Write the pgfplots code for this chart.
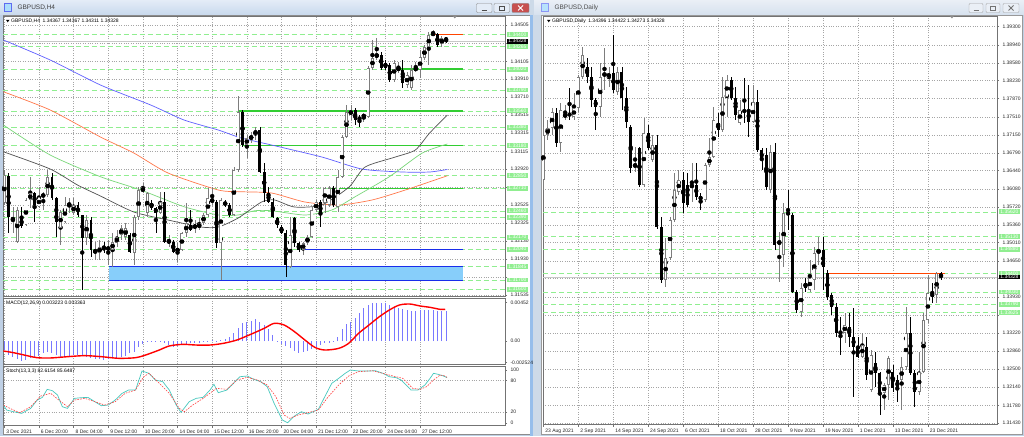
\documentclass[border=0pt]{standalone}
\usepackage{fontspec}
\setmainfont{Liberation Sans}
\usepackage{pgfplots}
\usepackage{pgfplotstable}
\pgfplotsset{compat=1.18}

\definecolor{winbg}{RGB}{191,208,229}
\definecolor{titA}{RGB}{228,236,247}
\definecolor{titB}{RGB}{200,217,237}
\definecolor{titC}{RGB}{234,239,246}
\definecolor{titD}{RGB}{214,225,238}
\definecolor{closec}{RGB}{199,80,80}
\definecolor{sepA}{RGB}{205,218,232}
\definecolor{sepB}{RGB}{150,190,235}
\definecolor{upc}{RGB}{125,125,125}
\definecolor{lgreen}{RGB}{144,238,144}
\definecolor{sgreen}{RGB}{50,205,50}
\definecolor{lblue}{RGB}{135,206,250}
\definecolor{dblue}{RGB}{25,45,235}
\definecolor{ored}{RGB}{255,69,0}
\definecolor{maBlue}{RGB}{95,95,255}
\definecolor{maOrange}{RGB}{255,120,75}
\definecolor{maGreen}{RGB}{120,215,120}
\definecolor{maGrey}{RGB}{80,80,80}
\definecolor{histc}{RGB}{120,120,255}
\definecolor{stochm}{RGB}{72,200,190}
\definecolor{gridc}{RGB}{165,165,165}
\definecolor{pline}{RGB}{200,200,200}

\newcommand\tf{\fontsize{5}{6}\selectfont}

\pgfplotsset{
  mt/.style={
    scale only axis, anchor=north west,
    axis background/.style={fill=white},
    axis line style={draw=black!55, line width=0.5pt},
    tick label style={font=\tf, text=black!85},
    ytick pos=right, yticklabel pos=right,
    xtick pos=bottom,
    tick align=outside, major tick length=2pt,
    every tick/.style={black!55, line width=0.4pt},
    grid style={draw=gridc, dash pattern=on 0.8pt off 1.6pt, line width=0.4pt},
    clip mode=individual,
    yticklabel style={anchor=west},
    scaled y ticks=false, scaled x ticks=false,
  },
  eb/.style={forget plot, only marks, mark=none, error bars/y dir=both, error bars/y explicit, error bars/error mark=none},
}

% #1 table, #2 min half body, #3 inner shrink, #4 body width, #5 inner width
\newcommand{\candles}[5]{%
 \addplot[eb, restrict expr to domain={\thisrow{c}-\thisrow{o}}{0:1}, error bars/error bar style={draw=upc, line width=0.6pt, solid}]
   table[x=i, y expr={(\thisrow{h}+\thisrow{l})/2}, y error expr={(\thisrow{h}-\thisrow{l})/2}] {#1};
 \addplot[eb, restrict expr to domain={\thisrow{o}-\thisrow{c}}{0.000001:1}, error bars/error bar style={draw=black, line width=0.6pt, solid}]
   table[x=i, y expr={(\thisrow{h}+\thisrow{l})/2}, y error expr={(\thisrow{h}-\thisrow{l})/2}] {#1};
 \addplot[eb, restrict expr to domain={\thisrow{c}-\thisrow{o}}{0:1}, error bars/error bar style={draw=upc, line width=#4, solid}]
   table[x=i, y expr={(\thisrow{o}+\thisrow{c})/2}, y error expr={max(abs(\thisrow{c}-\thisrow{o})/2,#2)}] {#1};
 \addplot[eb, restrict expr to domain={\thisrow{c}-\thisrow{o}}{0:1}, error bars/error bar style={draw=white, line width=#5, solid}]
   table[x=i, y expr={(\thisrow{o}+\thisrow{c})/2}, y error expr={max(abs(\thisrow{c}-\thisrow{o})/2-#3,0)}] {#1};
 \addplot[eb, restrict expr to domain={\thisrow{o}-\thisrow{c}}{0.000001:1}, error bars/error bar style={draw=black, line width=#4, solid}]
   table[x=i, y expr={(\thisrow{o}+\thisrow{c})/2}, y error expr={max(abs(\thisrow{c}-\thisrow{o})/2,#2)}] {#1};
}
\newcommand{\gbox}[3]{\node[anchor=west, fill=lgreen, text=white, inner xsep=1.2pt, inner ysep=0.7pt, font=\tf, xshift=2pt] at (axis cs:#1,#2) {#3};}
\newcommand{\kbox}[3]{\node[anchor=west, fill=black, text=white, inner xsep=1.2pt, inner ysep=0.7pt, font=\tf, xshift=2pt] at (axis cs:#1,#2) {#3};}

% ---------------- H4 candles (index, open, high, low, close)
\pgfplotstableread{
i o h l c
0 1.32547 1.32910 1.32525 1.32855
1 1.32844 1.32877 1.32217 1.32393
2 1.32360 1.32503 1.32217 1.32382
3 1.32118 1.32503 1.32107 1.32470
4 1.32382 1.32503 1.32272 1.32294
5 1.32305 1.32602 1.32294 1.32580
6 1.32580 1.32833 1.32492 1.32657
7 1.32657 1.32668 1.32338 1.32525
8 1.32503 1.32723 1.32492 1.32613
9 1.32613 1.32668 1.32470 1.32646
10 1.32635 1.32910 1.32613 1.32833
11 1.32833 1.32877 1.32580 1.32602
12 1.32602 1.32613 1.32173 1.32338
13 1.32272 1.32470 1.32085 1.32448
14 1.32338 1.32613 1.32327 1.32525
15 1.32525 1.32602 1.32437 1.32536
16 1.32437 1.32602 1.32415 1.32525
17 1.32525 1.32558 1.32393 1.32415
18 1.32415 1.32415 1.31590 1.32162
19 1.32162 1.32415 1.32085 1.32360
20 1.32360 1.32393 1.31953 1.32030
21 1.31997 1.32118 1.31920 1.32030
22 1.31997 1.32140 1.31920 1.32063
23 1.32063 1.32118 1.31997 1.32030
24 1.32030 1.32140 1.31865 1.32063
25 1.32030 1.32217 1.31843 1.32118
26 1.32107 1.32250 1.32063 1.32173
27 1.32195 1.32305 1.32140 1.32272
28 1.32173 1.32327 1.32140 1.32272
29 1.32195 1.32217 1.31997 1.32008
30 1.31997 1.32415 1.31865 1.32393
31 1.32393 1.32723 1.32360 1.32690
32 1.32668 1.32767 1.32657 1.32723
33 1.32437 1.32668 1.32393 1.32657
34 1.32547 1.32580 1.32470 1.32492
35 1.32492 1.32503 1.32217 1.32437
36 1.32437 1.32668 1.32426 1.32558
37 1.32558 1.32668 1.32107 1.32118
38 1.32107 1.32195 1.32063 1.32140
39 1.32118 1.32140 1.31997 1.32008
40 1.32008 1.32107 1.31898 1.32052
41 1.32030 1.32228 1.32019 1.32217
42 1.32217 1.32547 1.32173 1.32327
43 1.32305 1.32470 1.32239 1.32250
44 1.32272 1.32360 1.32217 1.32305
45 1.32272 1.32382 1.32250 1.32327
46 1.32327 1.32437 1.32305 1.32415
47 1.32415 1.32712 1.32393 1.32602
48 1.32547 1.32723 1.32525 1.32602
49 1.32558 1.32580 1.32052 1.32107
50 1.32107 1.32602 1.31700 1.32580
51 1.32558 1.32580 1.32503 1.32525
52 1.32525 1.32547 1.32393 1.32415
53 1.32415 1.32943 1.32404 1.32910
54 1.32910 1.33724 1.32888 1.33548
55 1.33548 1.33570 1.33163 1.33185
56 1.33185 1.33295 1.33042 1.33262
57 1.33240 1.33328 1.33207 1.33295
58 1.33295 1.33383 1.33240 1.33350
59 1.33350 1.33383 1.32877 1.32888
60 1.32888 1.32987 1.32558 1.32657
61 1.32657 1.32723 1.32547 1.32558
62 1.32558 1.32602 1.32382 1.32393
63 1.32382 1.32393 1.32272 1.32305
64 1.32283 1.32305 1.32206 1.32217
65 1.32217 1.32250 1.31733 1.31865
66 1.31843 1.32393 1.31832 1.32195
67 1.32382 1.32393 1.32063 1.32107
68 1.32107 1.32118 1.32008 1.32030
69 1.32030 1.32118 1.31975 1.32107
70 1.32107 1.32195 1.32085 1.32173
71 1.32173 1.32503 1.32162 1.32470
72 1.32470 1.32580 1.32448 1.32558
73 1.32558 1.32580 1.32283 1.32415
74 1.32547 1.32723 1.32437 1.32712
75 1.32525 1.32733 1.32503 1.32712
76 1.32712 1.32733 1.32503 1.32525
77 1.32503 1.32910 1.32448 1.32833
78 1.32833 1.33295 1.32822 1.33273
79 1.33273 1.33625 1.33262 1.33548
80 1.33515 1.33625 1.33460 1.33570
81 1.33570 1.33592 1.33405 1.33460
82 1.33493 1.33515 1.33383 1.33460
83 1.33493 1.33537 1.33438 1.33515
84 1.33493 1.34054 1.33482 1.34032
85 1.34032 1.34340 1.34010 1.34142
86 1.34142 1.34362 1.34120 1.34197
87 1.34175 1.34208 1.34010 1.34032
88 1.34087 1.34120 1.34010 1.34032
89 1.34065 1.34087 1.33878 1.33900
90 1.33900 1.34120 1.33878 1.34087
91 1.34010 1.34098 1.33977 1.34032
92 1.34010 1.34120 1.33812 1.33867
93 1.33845 1.33988 1.33812 1.33955
94 1.33812 1.34065 1.33790 1.34010
95 1.34010 1.34098 1.33988 1.34032
96 1.34010 1.34230 1.33922 1.34153
97 1.34142 1.34285 1.34120 1.34263
98 1.34263 1.34428 1.34065 1.34395
99 1.34395 1.34450 1.34384 1.34417
100 1.34406 1.34417 1.34263 1.34285
101 1.34296 1.34384 1.34263 1.34362
102 1.34367 1.34367 1.34311 1.34328
}\hfour

% ---------------- Daily candles
\pgfplotstableread{
i o h l c
0 1.36255 1.37308 1.36057 1.37149
1 1.37149 1.37447 1.37050 1.37288
2 1.37288 1.37685 1.37149 1.37606
3 1.37586 1.37685 1.36911 1.36990
4 1.36990 1.37784 1.36811 1.37645
5 1.37506 1.37745 1.37447 1.37566
6 1.37586 1.38082 1.37447 1.37526
7 1.37506 1.37983 1.37447 1.37685
8 1.37685 1.38340 1.37606 1.38301
9 1.38301 1.38897 1.38261 1.38738
10 1.38499 1.38678 1.38182 1.38301
11 1.38301 1.38499 1.37705 1.37844
12 1.37844 1.37884 1.37248 1.37705
13 1.37705 1.38579 1.37506 1.38301
14 1.38321 1.38877 1.38043 1.38380
15 1.38281 1.38499 1.38102 1.38380
16 1.38380 1.39135 1.37983 1.38043
17 1.38003 1.38499 1.37943 1.38400
18 1.38400 1.38499 1.37645 1.37884
19 1.37884 1.38102 1.37288 1.37407
20 1.37308 1.37348 1.36394 1.36494
21 1.36494 1.36911 1.36414 1.36593
22 1.36891 1.36911 1.36116 1.36156
23 1.36156 1.37487 1.36116 1.37189
24 1.37189 1.37348 1.36851 1.36891
25 1.36652 1.37149 1.36613 1.36950
26 1.36950 1.37149 1.35282 1.35322
27 1.35322 1.35520 1.34210 1.34269
28 1.34269 1.35103 1.34130 1.34706
29 1.34706 1.35520 1.34666 1.35461
30 1.35461 1.36394 1.35421 1.36057
31 1.36017 1.36454 1.35957 1.36255
32 1.36255 1.36414 1.35600 1.35798
33 1.36156 1.36394 1.35719 1.35759
34 1.36116 1.36593 1.35818 1.36156
35 1.36156 1.36593 1.35858 1.35918
36 1.35937 1.35997 1.35659 1.35858
37 1.35858 1.36593 1.35818 1.36553
38 1.36553 1.37090 1.36513 1.36712
39 1.36712 1.37705 1.36692 1.37447
40 1.37387 1.37586 1.37109 1.37248
41 1.37248 1.38301 1.37209 1.37904
42 1.37904 1.38340 1.37506 1.38241
43 1.38241 1.38301 1.37844 1.37884
44 1.37884 1.38102 1.37447 1.37546
45 1.37387 1.37844 1.37348 1.37645
46 1.37645 1.38281 1.37387 1.37606
47 1.37645 1.38142 1.37109 1.37407
48 1.37407 1.38142 1.37387 1.37804
49 1.37804 1.38043 1.36811 1.36851
50 1.36851 1.36891 1.36454 1.36652
51 1.36752 1.36891 1.36057 1.36116
52 1.36057 1.36950 1.35997 1.36811
53 1.36811 1.36990 1.34865 1.34964
54 1.34964 1.35223 1.34229 1.35064
55 1.34766 1.35798 1.34527 1.35600
56 1.35620 1.36057 1.35262 1.35560
57 1.35560 1.35600 1.34011 1.34031
58 1.34031 1.34071 1.33614 1.33673
59 1.33634 1.34210 1.33534 1.34110
60 1.34210 1.34309 1.34031 1.34110
61 1.34071 1.34666 1.34031 1.34309
62 1.34269 1.34925 1.34071 1.34805
63 1.34805 1.35123 1.34567 1.34865
64 1.34865 1.35123 1.34071 1.34527
65 1.34408 1.34468 1.33872 1.33932
66 1.33971 1.34011 1.33574 1.33733
67 1.33733 1.33812 1.33137 1.33217
68 1.33237 1.33534 1.32780 1.33217
69 1.33217 1.33614 1.33018 1.33376
70 1.33336 1.33614 1.32939 1.33137
71 1.33137 1.33713 1.31946 1.32939
72 1.32939 1.33137 1.32720 1.32740
73 1.32740 1.33217 1.32720 1.32978
74 1.32939 1.33137 1.32283 1.32383
75 1.32085 1.32879 1.32045 1.32780
76 1.32621 1.32840 1.32144 1.32422
77 1.32422 1.32442 1.31588 1.32025
78 1.32025 1.32224 1.31687 1.32184
79 1.32184 1.32760 1.31886 1.32720
80 1.32442 1.32581 1.32045 1.32124
81 1.32283 1.32383 1.31846 1.32124
82 1.32283 1.32740 1.31687 1.32541
83 1.32541 1.33733 1.32482 1.33217
84 1.33217 1.33534 1.32383 1.32422
85 1.32422 1.32482 1.31747 1.32045
86 1.32045 1.32840 1.31985 1.32442
87 1.32442 1.33614 1.32422 1.33475
88 1.33475 1.34369 1.33415 1.34011
89 1.34011 1.34210 1.33812 1.33932
90 1.33971 1.34428 1.33812 1.34396
91 1.34396 1.34422 1.34273 1.34328
}\daily

% ---------------- MACD histogram
\pgfplotstableread{
i m
0 -0.00105
1 -0.00164
2 -0.00183
3 -0.00214
4 -0.00234
5 -0.00222
6 -0.00202
7 -0.00183
8 -0.00171
9 -0.00144
10 -0.00132
11 -0.00144
12 -0.00164
13 -0.00183
14 -0.00183
15 -0.00175
16 -0.00167
17 -0.00164
18 -0.00175
19 -0.00191
20 -0.00202
21 -0.00214
22 -0.00214
23 -0.00222
24 -0.00214
25 -0.00202
26 -0.00202
27 -0.00183
28 -0.00171
29 -0.00144
30 -0.00125
31 -0.00074
32 -0.00035
33 -0.00016
34 -0.00012
35 -0.00008
36 -0.00004
37 -0.00019
38 -0.00047
39 -0.00066
40 -0.00058
41 -0.00047
42 -0.00039
43 -0.00027
44 -0.00027
45 -0.00019
46 -0.00008
47 0.00002
48 0.00012
49 0.00004
50 0.00012
51 0.00019
52 0.00051
53 0.00090
54 0.00156
55 0.00206
56 0.00226
57 0.00237
58 0.00253
59 0.00226
60 0.00187
61 0.00136
62 0.00070
63 0.00004
64 -0.00035
65 -0.00058
66 -0.00086
67 -0.00113
68 -0.00136
69 -0.00132
70 -0.00113
71 -0.00097
72 -0.00074
73 -0.00047
74 -0.00027
75 -0.00019
76 -0.00008
77 0.00051
78 0.00136
79 0.00195
80 0.00226
81 0.00265
82 0.00323
83 0.00382
84 0.00420
85 0.00440
86 0.00448
87 0.00448
88 0.00440
89 0.00420
90 0.00401
91 0.00382
92 0.00370
93 0.00362
94 0.00354
95 0.00354
96 0.00362
97 0.00362
98 0.00362
99 0.00362
100 0.00350
101 0.00350
102 0.00345
}\macdh

\pgfplotstableread{
i s
-0.2 -0.00117
2.1 -0.00136
5.25 -0.00171
7.6 -0.00195
10.7 -0.00198
14.6 -0.00183
18.6 -0.00171
22.4 -0.00183
26.4 -0.00202
30.3 -0.00195
32.6 -0.00164
35.8 -0.00105
38.1 -0.00058
41.2 -0.00039
44.3 -0.00047
47.5 -0.00047
50.6 -0.00027
53.7 0.00012
56.9 0.00078
60.0 0.00148
62.3 0.00206
64.6 0.00187
67.0 0.00109
69.4 0.00012
71.7 -0.00074
74.0 -0.00105
77.2 -0.00086
79.5 -0.00027
81.8 0.00090
84.2 0.00187
86.6 0.00284
88.9 0.00362
91.2 0.00420
93.6 0.00432
96.0 0.00409
98.3 0.00393
100.6 0.00370
101.8 0.00370
}\macds

\pgfplotstableread{
i k
-0.2 33.5
0.55 24
2.1 21
4.0 17.7
6.1 27.2
7.6 43
8.8 48.1
9.9 63.3
11.1 60.8
12.3 52.5
13.4 30.4
14.6 27.2
16.2 46.2
17.8 47.5
19.3 48.1
20.9 39.9
22.4 32.3
24.0 33.5
25.6 43
27.2 55.7
28.7 62
30.3 62
31.8 98.1
33.4 93.7
34.9 81
36.6 77.8
38.1 62
39.7 33.5
40.8 19.6
42.7 39.9
44.3 46.2
45.9 48.1
47.5 62
48.4 72.8
49.4 57
51.4 62
52.9 74.7
54.4 87.3
56.1 88.6
57.6 82.3
59.2 77.8
60.7 68.4
62.3 36.7
64.2 5.1
65.4 0
67.0 12.7
68.6 20.9
70.1 16.5
72.5 25.3
74.0 49.4
75.6 74.7
77.2 84.2
78.7 93.7
79.9 100
81.8 98.1
84.2 98.1
85.7 98.7
87.4 93.7
88.9 87.3
90.5 85.4
91.6 81
92.8 71.5
93.9 62
95.5 62
97.1 71.5
98.3 84.2
99.1 93.7
100.2 91.8
101.4 88.6
102.2 85.5
}\stochk

\pgfplotstableread{
i d
-0.2 33.5
1.3 27.2
3.6 19
6.1 30.4
8.4 50.6
10.7 55.7
12.6 43
14.6 30.4
16.2 43
18.6 46.2
20.9 39.9
23.2 33.5
25.6 39.9
27.9 55.7
30.3 62
32.2 87.3
33.4 93.7
35.8 74.7
38.1 55.7
40.4 27.2
41.6 20.9
43.5 33.5
45.9 46.2
49.0 65.2
51.4 63.3
53.7 81
56.1 86.1
58.4 81
60.7 71.5
62.7 49.4
64.6 14.6
65.9 8.2
67.8 14.6
70.1 19
72.5 24
74.8 49.4
77.2 71.5
79.5 88.6
81.8 96.8
84.9 98.7
87.4 93.7
89.7 88.6
92.0 84.2
94.3 65.2
96.0 63.3
97.5 68.4
99.1 81
100.6 90.5
101.8 88.6
102.2 86
}\stochd

\begin{document}
\begin{tikzpicture}
\useasboundingbox (0pt,0pt) rectangle (1024pt,-436pt);
\begin{scope}[x=1pt,y=-1pt]
  \fill[winbg] (0,0) rectangle (1024,436);
  % left window
  \shade[top color=titA, bottom color=titB] (0,0) rectangle (532,15);
  \fill[white] (3,15) rectangle (530,434);
  \draw[black!45, line width=0.4pt] (3,15) rectangle (530,434);
  \fill[lblue!70] (4,3.5) rectangle (11.5,11.5); \draw[dblue!70, line width=0.4pt] (4,3.5) rectangle (11.5,11.5);
  \node[anchor=west, font=\fontsize{6.5}{7}\selectfont, text=black!75] at (14,8) {GBPUSD,H4};
  \draw[black!45, fill=titA, rounded corners=1pt] (476.5,3.5) rectangle (492,12.5);
  \draw[black!70, line width=0.8pt] (481.5,10) -- (487,10);
  \draw[black!45, fill=titA, rounded corners=1pt] (494,3.5) rectangle (509.5,12.5);
  \draw[black!70, line width=0.5pt] (499,6) rectangle (504.5,10.5);
  \draw[black!50, fill=closec, rounded corners=1pt] (512,3.5) rectangle (529,12.5);
  \draw[white, line width=0.9pt] (518,5.5) -- (523,10.5) (518,10.5) -- (523,5.5);
  % right window
  \fill[sepA] (530,0) rectangle (541,436);
  \fill[sepB] (530,15) rectangle (532.5,436);
  \shade[top color=titC, bottom color=titD] (534,0) rectangle (1024,15);
  \fill[white] (541,15) rectangle (1022,434);
  \draw[black!40, line width=0.4pt] (541,15) rectangle (1022,434);
  \fill[lblue!60] (541,3.5) rectangle (548.5,11.5); \draw[dblue!50, line width=0.4pt] (541,3.5) rectangle (548.5,11.5);
  \node[anchor=west, font=\fontsize{6.5}{7}\selectfont, text=black!70] at (551,8) {GBPUSD,Daily};
  \draw[black!35, fill=titC, rounded corners=1pt] (969,3.5) rectangle (983,12.5);
  \draw[black!55, line width=0.8pt] (973.5,10) -- (978.5,10);
  \draw[black!35, fill=titC, rounded corners=1pt] (986,3.5) rectangle (1000,12.5);
  \draw[black!55, line width=0.5pt] (990.5,6) rectangle (995.5,10.5);
  \draw[black!35, fill=titC, rounded corners=1pt] (1003,3.5) rectangle (1019,12.5);
  \draw[black!55, line width=0.8pt] (1008.5,5.5) -- (1013.5,10.5) (1008.5,10.5) -- (1013.5,5.5);
\end{scope}

% ================= H4 main chart =================
\begin{axis}[mt, at={(3.5pt,-16pt)}, width=501.5pt, height=280pt,
  xmin=-0.18, xmax=115.6, ymin=1.31524, ymax=1.34604,
  xtick={0,8,...,96}, xticklabel=\empty, xtick style={draw=none},
  xmajorgrids, ymajorgrids,
  ytick={1.31535,1.31735,1.31930,1.32130,1.32325,1.32525,1.32720,1.32920,1.33115,1.33315,1.33515,1.33710,1.33910,1.34105,1.34305,1.34505},
  yticklabels={1.31535,,1.31930,1.32130,1.32325,1.32525,,1.32920,1.33115,1.33315,1.33515,1.33710,1.33910,1.34105,,1.34505},
  after end axis/.code={
    \gbox{115.6}{1.34400}{1.34400}
    \gbox{115.6}{1.34265}{1.34265}
    \gbox{115.6}{1.34020}{1.34020}
    \gbox{115.6}{1.33790}{1.33790}
    \gbox{115.6}{1.33560}{1.33560}
    \gbox{115.6}{1.33380}{1.33380}
    \gbox{115.6}{1.33180}{1.33180}
    \gbox{115.6}{1.32850}{1.32850}
    \gbox{115.6}{1.32710}{1.32710}
    \gbox{115.6}{1.32460}{1.32460}
    \gbox{115.6}{1.32390}{1.32390}
    \gbox{115.6}{1.32170}{1.32170}
    \gbox{115.6}{1.32040}{1.32040}
    \gbox{115.6}{1.31845}{1.31845}
    \gbox{115.6}{1.31700}{1.31700}
    \gbox{115.6}{1.31600}{1.31600}
    \kbox{115.6}{1.34328}{1.34328}
    \fill[black!45] (axis cs:104,1.34604) -- ++(-2pt,0) -- ++(2pt,-2.5pt) -- ++(2pt,2.5pt) -- cycle;
  }]
  \pgfplotsinvokeforeach{1.34400,1.34265,1.34020,1.33790,1.33560,1.33380,1.33180,1.32850,1.32710,1.32460,1.32390,1.32170,1.32040,1.31845,1.31700,1.31600}{
    \draw[lgreen, line width=0.8pt, dash pattern=on 5pt off 3pt] (axis cs:-0.18,#1) -- (axis cs:115.6,#1);}
  \draw[pline, line width=0.5pt] (axis cs:-0.18,1.34328) -- (axis cs:115.6,1.34328);
  \fill[lblue] (axis cs:24.2,1.31845) rectangle (axis cs:105.9,1.31700);
  \draw[dblue, line width=1pt] (axis cs:24.2,1.31845) -- (axis cs:105.9,1.31845);
  \draw[dblue, line width=1pt] (axis cs:24.2,1.31700) -- (axis cs:105.9,1.31700);
  \draw[dblue, line width=0.9pt] (axis cs:68.5,1.32040) -- (axis cs:105.9,1.32040);
  \draw[sgreen, line width=1.2pt] (axis cs:90.6,1.34020) -- (axis cs:105.9,1.34020);
  \draw[sgreen, line width=1.2pt] (axis cs:54.2,1.33560) -- (axis cs:105.9,1.33560);
  \draw[sgreen, line width=1.4pt] (axis cs:55.1,1.33180) -- (axis cs:105.9,1.33180);
  \draw[sgreen, line width=1.2pt] (axis cs:75.2,1.32710) -- (axis cs:105.9,1.32710);
  \draw[ored, line width=1.3pt] (axis cs:98.7,1.34400) -- (axis cs:105.9,1.34400);
  % moving averages
  \addplot[maBlue, line width=0.7pt, smooth, tension=0.4, mark=none, forget plot] coordinates {
    (-0.2,1.3434) (10.6,1.3412) (22.2,1.33845) (33.8,1.33625) (41.5,1.3346) (49.4,1.3335) (54.7,1.33262) (61.7,1.33185) (73.3,1.33053) (82.6,1.3292) (91.9,1.32888) (98.2,1.32888) (102.3,1.32916)};
  \addplot[maOrange, line width=0.7pt, smooth, tension=0.4, mark=none, forget plot] coordinates {
    (-0.23,1.33771) (10.6,1.3357) (22.2,1.33273) (29.9,1.33097) (37.8,1.32877) (49.4,1.3269) (54.7,1.32671) (61.7,1.32657) (69.4,1.32558) (77.3,1.32525) (84.9,1.3258) (92.6,1.3269) (102.3,1.32847)};
  \addplot[maGreen, line width=0.7pt, smooth, tension=0.4, mark=none, forget plot] coordinates {
    (-0.23,1.33405) (10.6,1.33075) (22.2,1.32836) (31.5,1.3269) (41.5,1.32506) (49.4,1.32415) (54.0,1.32415) (57.8,1.32462) (61.7,1.32462) (69.4,1.32415) (75.6,1.3247) (81.0,1.32616) (88.9,1.32836) (96.5,1.33097) (102.3,1.33196)};
  \addplot[maGrey, line width=0.7pt, smooth, tension=0.4, mark=none, forget plot] coordinates {
    (-0.23,1.33111) (10.6,1.32921) (16.9,1.32745) (22.2,1.32624) (29.9,1.32448) (37.8,1.32360) (45.4,1.32283) (49.4,1.32283) (54.0,1.32382) (59.4,1.32558) (62.4,1.32580) (67.0,1.32503) (73.3,1.32525) (79.6,1.32723) (83.3,1.32943) (90.3,1.33053) (94.9,1.33130) (98.2,1.33317) (102.3,1.33515)};
  \candles{\hfour}{0.000055}{0.000077}{2.8pt}{1.4pt}
\end{axis}

% ================= MACD =================
\begin{axis}[mt, at={(3.5pt,-298.3pt)}, width=501.5pt, height=65.7pt,
  xmin=-0.18, xmax=115.6, ymin=-0.002686, ymax=0.004987,
  xtick={0,8,...,96}, xticklabel=\empty, xtick style={draw=none}, xmajorgrids,
  ytick={-0.002524,0,0.00452}, yticklabels={-0.002524,0.00,0.00452}]
  \addplot[ycomb, draw=histc, line width=0.9pt, mark=none, forget plot] table[x=i,y=m] {\macdh};
  \addplot[red, line width=1.4pt, smooth, tension=0.5, mark=none, forget plot] table[x=i,y=s] {\macds};
\end{axis}

% ================= Stochastic =================
\begin{axis}[mt, at={(3.5pt,-366pt)}, width=501.5pt, height=59.5pt,
  xmin=-0.18, xmax=115.6, ymin=-5.3, ymax=107.6,
  xtick={0,8,...,96},
  xticklabels={3 Dec 2021,6 Dec 20:00,8 Dec 04:00,9 Dec 12:00,10 Dec 20:00,14 Dec 04:00,15 Dec 12:00,16 Dec 20:00,20 Dec 04:00,21 Dec 12:00,22 Dec 20:00,24 Dec 04:00,27 Dec 12:00},
  xticklabel style={anchor=north west, xshift=-1.5pt, yshift=1pt},
  xmajorgrids, ymajorgrids,
  ytick={20,80}, yticklabels={20,80},
  extra y ticks={0,100}, extra y tick labels={0,100}, extra y tick style={grid=none}]
  \addplot[stochm, line width=0.7pt, mark=none, forget plot] table[x=i,y=k] {\stochk};
  \addplot[red!75, line width=0.6pt, dash pattern=on 1.6pt off 1.2pt, mark=none, forget plot] table[x=i,y=d] {\stochd};
\end{axis}

% ================= Daily chart =================
\begin{axis}[mt, at={(543pt,-16pt)}, width=454pt, height=408.5pt,
  xmin=-0.07, xmax=103.82, ymin=1.31399, ymax=1.39512,
  xtick={0,8,...,88},
  xticklabels={23 Aug 2021,2 Sep 2021,14 Sep 2021,24 Sep 2021,6 Oct 2021,18 Oct 2021,28 Oct 2021,9 Nov 2021,19 Nov 2021,1 Dec 2021,13 Dec 2021,23 Dec 2021},
  xticklabel style={anchor=north west, xshift=-1.5pt, yshift=1pt},
  xmajorgrids, ymajorgrids,
  ytick={1.31430,1.31780,1.32140,1.32500,1.32860,1.33220,1.33570,1.33930,1.34300,1.34650,1.35010,1.35360,1.35720,1.36080,1.36440,1.36790,1.37150,1.37510,1.37870,1.38230,1.38580,1.38940,1.39300},
  yticklabels={1.31430,1.31780,1.32140,1.32500,1.32860,1.33220,,1.33930,,1.34650,1.35010,1.35360,1.35720,1.36080,1.36440,1.36790,1.37150,1.37510,1.37870,1.38230,1.38580,1.38940,1.39300},
  after end axis/.code={
    \gbox{103.82}{1.35620}{1.35620}
    \gbox{103.82}{1.35130}{1.35130}
    \gbox{103.82}{1.34880}{1.34880}
    \gbox{103.82}{1.34400}{1.34400}
    \gbox{103.82}{1.34030}{1.34030}
    \gbox{103.82}{1.33790}{1.33790}
    \gbox{103.82}{1.33625}{1.33625}
    \kbox{103.82}{1.34328}{1.34328}
    \fill[black!45] (axis cs:93.5,1.39512) -- ++(-2pt,0) -- ++(2pt,-2.5pt) -- ++(2pt,2.5pt) -- cycle;
  }]
  \pgfplotsinvokeforeach{1.35620,1.35130,1.34880,1.34400,1.34030,1.33790,1.33625}{
    \draw[lgreen, line width=0.8pt, dash pattern=on 5pt off 3pt] (axis cs:-0.07,#1) -- (axis cs:103.82,#1);}
  \draw[pline, line width=0.5pt] (axis cs:-0.07,1.34328) -- (axis cs:103.82,1.34328);
  \draw[ored, line width=1.3pt] (axis cs:64.9,1.34400) -- (axis cs:91.9,1.34400);
  \candles{\daily}{0.0001}{0.000139}{3pt}{1.6pt}
\end{axis}

% header texts
\begin{scope}[x=1pt,y=-1pt]
  \fill[black] (6,19.8) -- (9.5,19.8) -- (7.75,22.3) -- cycle;
  \node[anchor=west, font=\tf, inner sep=0pt] at (11,21) {GBPUSD,H4\enspace 1.34367 1.34367 1.34311 1.34328};
  \node[anchor=west, font=\tf, inner sep=0pt] at (6,303) {MACD(12,26,9) 0.003223 0.003363};
  \node[anchor=west, font=\tf, inner sep=0pt] at (6,371) {Stoch(13,3,3) 82.6154 85.6487};
  \fill[black] (547,19.8) -- (550.5,19.8) -- (548.75,22.3) -- cycle;
  \node[anchor=west, font=\tf, inner sep=0pt] at (552,21) {GBPUSD,Daily\enspace 1.34396 1.34422 1.34273 1.34328};
\end{scope}
\end{tikzpicture}
\end{document}
